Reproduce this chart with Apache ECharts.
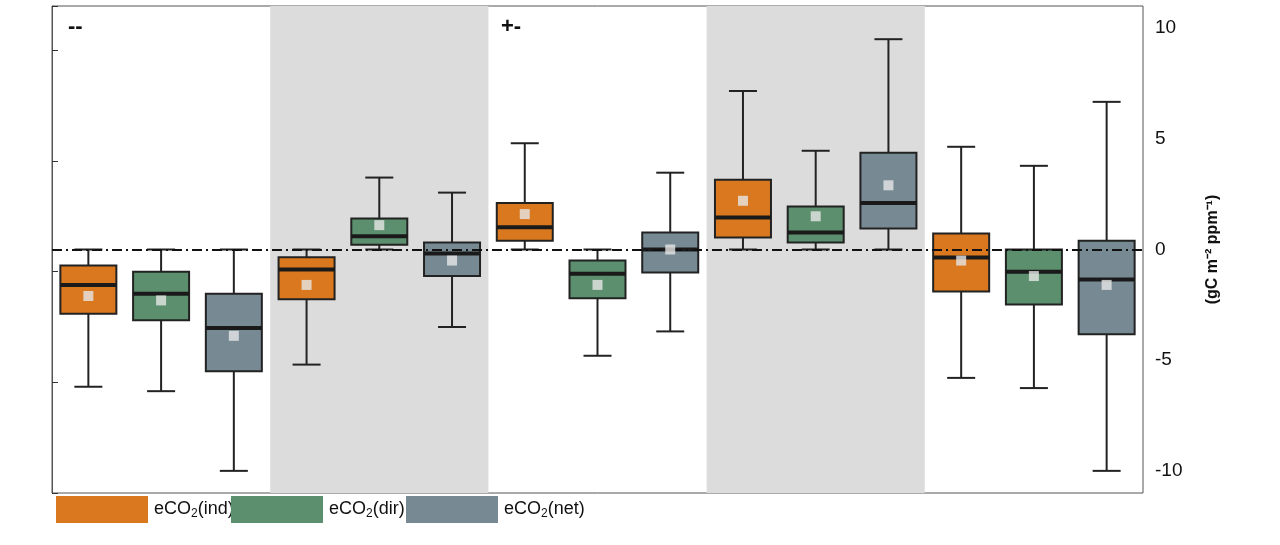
<!DOCTYPE html>
<html>
<head>
<meta charset="UTF-8">
<script src="https://cdn.jsdelivr.net/npm/echarts@6/dist/echarts.min.js"></script>
<style>html,body{margin:0;background:#fff}</style>
</head>
<body>
<div id="main" style="width:1280px;height:545px;"></div>
<script>
// one entry per box, groups of three: ind, dir, net
var kinds = ['ind', 'dir', 'net'];
var groupLabels = ['--', '-+', '+-', '++', ''];
var lowWhisker = [-6.2, -6.4, -10, -5.2, 0, -3.5, 0, -4.8, -3.7, 0, 0, 0, -5.8, -6.26, -10];
var q1 = [-2.9, -3.2, -5.5, -2.25, 0.22, -1.2, 0.4, -2.2, -1.04, 0.54, 0.32, 0.95, -1.9, -2.48, -3.83];
var median = [-1.6, -2.0, -3.55, -0.9, 0.6, -0.18, 1.0, -1.1, 0, 1.44, 0.77, 2.1, -0.36, -1.0, -1.35];
var q3 = [-0.72, -1.0, -2.0, -0.35, 1.4, 0.32, 2.1, -0.5, 0.77, 3.15, 1.94, 4.37, 0.72, 0, 0.4];
var highWhisker = [0, 0, 0, 0, 3.25, 2.57, 4.8, 0, 3.47, 7.16, 4.46, 9.5, 4.64, 3.78, 6.67];
var means = [-2.1, -2.3, -3.9, -1.6, 1.1, -0.5, 1.6, -1.6, 0, 2.2, 1.5, 2.9, -0.5, -1.2, -1.6];
var colors = {ind: '#D9781E', dir: '#5B8F6E', net: '#778A94'};

var chart = echarts.init(document.getElementById('main'));
var boxData = lowWhisker.map(function (v, i) {
    return [i + 0.5, v, q1[i], median[i], q3[i], highWhisker[i], i];
});

chart.setOption({
    animation: false,
    grid: {left: 52, right: 137, top: 6, bottom: 52, show: true, borderColor: '#555', borderWidth: 1},
    xAxis: {type: 'value', min: 0, max: 15, show: false},
    yAxis: {
        type: 'value', position: 'right', min: -11, max: 11, interval: 5,
        splitLine: {show: false}, axisLine: {show: true, lineStyle: {color: '#555'}},
        axisTick: {show: true, length: 6, lineStyle: {color: '#333'}},
        axisLabel: {color: '#111', fontSize: 19, fontFamily: 'Liberation Sans', margin: 12,
            customValues: [-10, -5, 0, 5, 10]},
        name: '(gC m\u207B\u00B2 ppm\u207B\u00B9)', nameLocation: 'middle', nameRotate: 90, nameGap: 62,
        nameTextStyle: {fontWeight: 'bold', fontSize: 16, color: '#111', fontFamily: 'Liberation Sans'}
    },
    series: [{
        type: 'custom',
        data: boxData,
        encode: {x: 0, y: [1, 2, 3, 4, 5]},
        renderItem: function (params, api) {
            var x = api.value(0);
            var i = api.value(6);
            var lo = api.coord([x, api.value(1)]), a = api.coord([x, api.value(2)]);
            var m = api.coord([x, api.value(3)]), b = api.coord([x, api.value(4)]);
            var hi = api.coord([x, api.value(5)]);
            var bw = 56, cw = 28, cx = lo[0];
            var stroke = {stroke: '#222', lineWidth: 2};
            return {type: 'group', children: [
                {type: 'line', shape: {x1: cx, y1: hi[1], x2: cx, y2: b[1]}, style: stroke},
                {type: 'line', shape: {x1: cx, y1: a[1], x2: cx, y2: lo[1]}, style: stroke},
                {type: 'line', shape: {x1: cx - cw / 2, y1: hi[1], x2: cx + cw / 2, y2: hi[1]}, style: stroke},
                {type: 'line', shape: {x1: cx - cw / 2, y1: lo[1], x2: cx + cw / 2, y2: lo[1]}, style: stroke},
                {type: 'rect', shape: {x: cx - bw / 2, y: b[1], width: bw, height: a[1] - b[1]},
                    style: {fill: colors[kinds[i % 3]], stroke: '#222', lineWidth: 2}},
                {type: 'line', shape: {x1: cx - bw / 2, y1: m[1], x2: cx + bw / 2, y2: m[1]},
                    style: {stroke: '#1a1a1a', lineWidth: 4}}
            ]};
        },
        markArea: {
            silent: true,
            itemStyle: {color: '#dcdcdc'},
            data: [[{xAxis: 3}, {xAxis: 6}], [{xAxis: 9}, {xAxis: 12}]]
        },
        markLine: {
            silent: true, symbol: 'none', label: {show: false},
            lineStyle: {color: '#111', width: 2, type: [10, 4, 2, 4]},
            data: [{yAxis: 0}]
        },
        z: 2
    }, {
        type: 'scatter',
        data: means.map(function (v, i) { return [i + 0.5, v]; }),
        symbol: 'rect', symbolSize: 10,
        itemStyle: {color: '#e6e6e6'},
        z: 5
    }],
    graphic: groupLabels.map(function (t, g) {
        return {type: 'text', left: 68 + g * 216.5, top: 16,
            style: {text: t, fontSize: 22, fontWeight: 'bold', fill: '#111', fontFamily: 'Liberation Sans'}};
    }).concat(kinds.map(function (k, j) {
        return {type: 'group', left: 56 + j * 175, top: 496, children: [
            {type: 'rect', shape: {x: 0, y: 0, width: 92, height: 27}, style: {fill: colors[k]}},
            {type: 'text', x: 98, y: 2, style: {rich: {n: {fontSize: 18}, s: {fontSize: 12, verticalAlign: 'bottom', padding: [10, 0, 0, 0]}},
                text: '{n|eCO}{s|2}{n|(' + k + ')}', fill: '#111', fontFamily: 'Liberation Sans'}}
        ]};
    }))
});
</script>
</body>
</html>
